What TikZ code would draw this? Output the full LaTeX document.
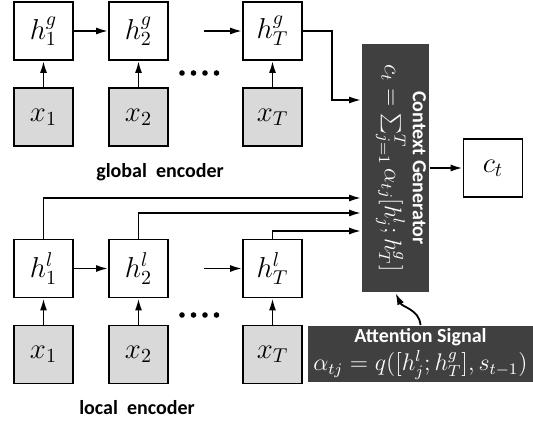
\documentclass[tikz,border=0pt]{standalone}
\usepackage{fontspec}
\setsansfont{Carlito}
\usetikzlibrary{arrows.meta}
\definecolor{darkbg}{RGB}{64,64,64}
\definecolor{inputgray}{RGB}{217,217,217}

\begin{document}
\begin{tikzpicture}[x=0.5pt, y=-0.5pt, every node/.style = {shape=rectangle, align=center}, >={Latex[length=6pt,width=3.5pt]}, line width=0.9pt]
	\tikzset{ hbox/.style = {draw, minimum width=29.5pt, minimum height=29pt, inner sep=0pt, font=\Large} }
	\tikzset{ xbox/.style = {hbox, fill=inputgray} }
	\tikzset{ darkbox/.style = {fill=darkbg, text=white, inner sep=0pt} }
	\tikzset{ caption/.style = {font=\sffamily\bfseries} }
	\useasboundingbox (0,0) rectangle (533,421);
	% global encoder
	\node[hbox] (hg1) at (43.5,31) {$h^g_1$};
	\node[hbox] (hg2) at (138.5,31) {$h^g_2$};
	\node[hbox] (hgT) at (272.5,31) {$h^g_T$};
	\node[xbox] (xg1) at (43.5,117) {$x_1$};
	\node[xbox] (xg2) at (138.5,117) {$x_2$};
	\node[xbox] (xgT) at (272.5,117) {$x_T$};
	\coordinate (gdots) at (204,31);
	\draw[->] (hg1) -- (hg2);
	\draw[->] (gdots) -- (hgT);
	\draw[->] (xg1) -- (hg1);
	\draw[->] (xg2) -- (hg2);
	\draw[->] (xgT) -- (hgT);
	\foreach \x in {182,193.5,205,216.5} { \fill (\x,73) circle[radius=1.4pt]; }
	\node[caption] (glabel) at (160,172) {global~~encoder};
	% local encoder
	\node[hbox] (hl1) at (43.5,268.5) {$h^l_1$};
	\node[hbox] (hl2) at (138.5,268.5) {$h^l_2$};
	\node[hbox] (hlT) at (272.5,268.5) {$h^l_T$};
	\node[xbox] (xl1) at (43.5,354.5) {$x_1$};
	\node[xbox] (xl2) at (138.5,354.5) {$x_2$};
	\node[xbox] (xlT) at (272.5,354.5) {$x_T$};
	\coordinate (ldots) at (204,268.5);
	\draw[->] (hl1) -- (hl2);
	\draw[->] (ldots) -- (hlT);
	\draw[->] (xl1) -- (hl1);
	\draw[->] (xl2) -- (hl2);
	\draw[->] (xlT) -- (hlT);
	\foreach \x in {182,193.5,205,216.5} { \fill (\x,315) circle[radius=1.4pt]; }
	\node[caption] (llabel) at (137,408) {local~~encoder};
	% context generator and attention
	\node[darkbox, minimum width=33.5pt, minimum height=124pt] (gen) at (395.5,168) {};
	\node[text=white, rotate=-90, font=\large] (gentxt) at (401,168)
		{{\normalsize\sffamily\bfseries Context Generator}\\ $c_t = \sum_{j=1}^{T} \alpha_{tj}[h^l_j;h^g_T]$};
	\node[hbox] (ct) at (493,168) {$c_t$};
	\node[darkbox, minimum width=112.5pt, minimum height=28pt, font=\large] (att) at (420.5,354)
		{{\normalsize\sffamily\bfseries Attention Signal}\\ $\alpha_{tj} = q([h^l_j;h^g_T], s_{t-1})$};
	\coordinate (gturn) at (332,100);
	\coordinate (l1y) at (0,198);
	\coordinate (l2y) at (0,213);
	\coordinate (lTy) at (0,231);
	\draw[->] (hgT.east) -| (gturn) -- (gen.west |- gturn);
	\draw[->] (hl1.north) |- (gen.west |- l1y);
	\draw[->] (hl2.north) |- (gen.west |- l2y);
	\draw[->] (hlT.north) |- (gen.west |- lTy);
	\draw[->] (gen) -- (ct);
	\draw[->] (att.north) to[out=95, in=-65] (gen.south);
\end{tikzpicture}
\end{document}
